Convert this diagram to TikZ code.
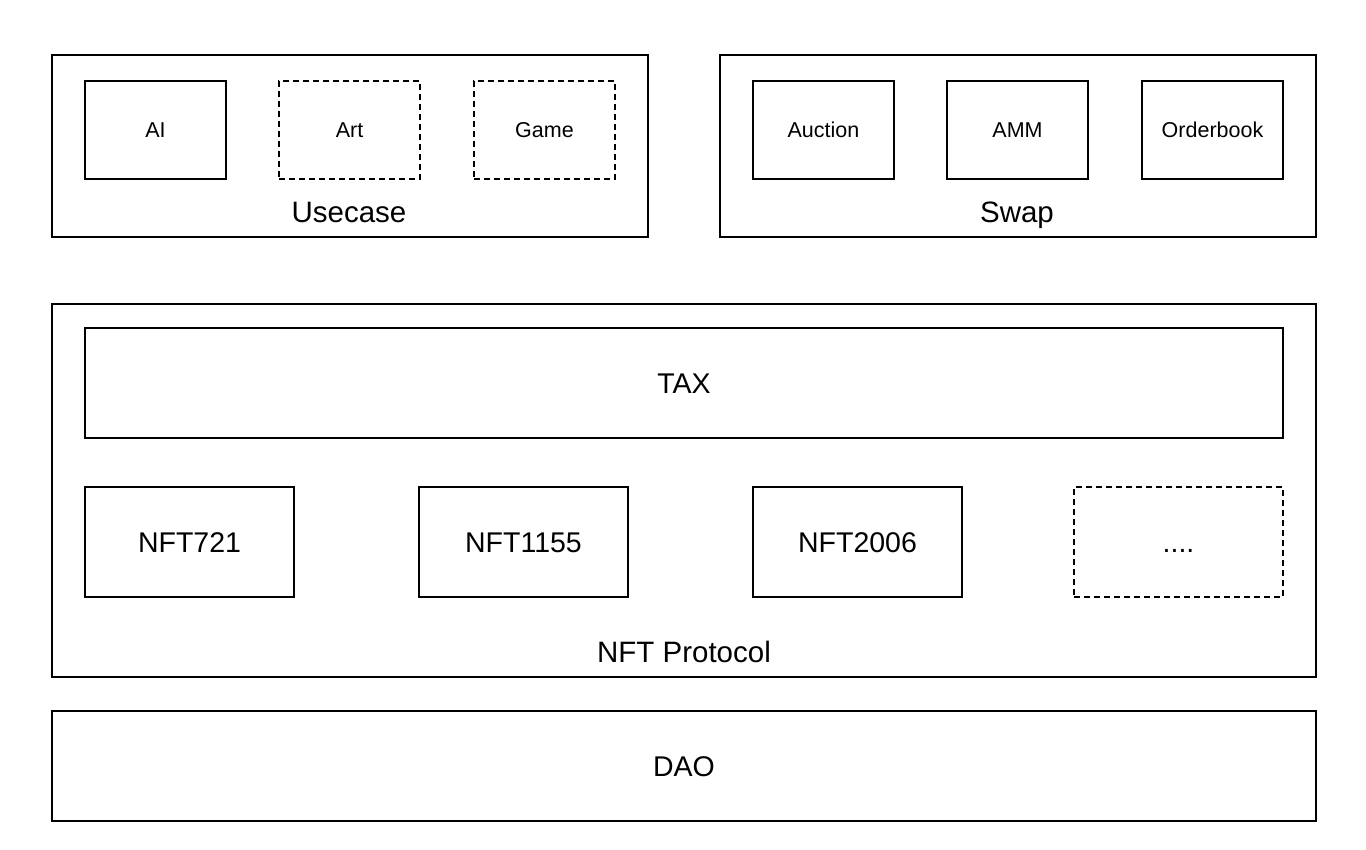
\documentclass[tikz,border=0pt]{standalone}
\usepackage{fontspec}
\setmainfont{Liberation Sans}
\begin{document}
\begin{tikzpicture}[x=1pt,y=-1pt,
  box/.style={draw=black,line width=1.2pt,rectangle,inner sep=0pt,outer sep=0pt,text depth=0pt},
  dbox/.style={box,dash pattern=on 6pt off 4pt},
  small/.style={font=\fontsize{21.5}{26}\selectfont,text height=15.5pt},
  big/.style={font=\fontsize{28.5}{34}\selectfont,text height=20.5pt},
  lbl/.style={font=\fontsize{29.5}{34}\selectfont,inner sep=0pt,text height=21.2pt,text depth=0pt}]
\useasboundingbox (0,0) rectangle (1366,850);
% outer frames
\node[box,minimum width=596pt,minimum height=182pt] (usecase) at (350,146) {};
\node[box,minimum width=596pt,minimum height=182pt] (swap) at (1018,146) {};
\node[box,minimum width=1264pt,minimum height=373pt] (proto) at (684,490.5) {};
\node[box,big,minimum width=1264pt,minimum height=110pt] (dao) at (684,766) {DAO};
% labels
\node[lbl] (usecaselbl) at (349,212) {Usecase};
\node[lbl] (swaplbl) at (1017,212) {Swap};
\node[lbl] (protolbl) at (684,652) {NFT Protocol};
% usecase
\node[box,small,minimum width=141pt,minimum height=98pt] (ai) at (155.5,130) {AI};
\node[dbox,small,minimum width=141pt,minimum height=98pt] (art) at (349.5,130) {Art};
\node[dbox,small,minimum width=141pt,minimum height=98pt] (game) at (544.5,130) {Game};
% swap
\node[box,small,minimum width=141pt,minimum height=98pt] (auction) at (823.5,130) {Auction};
\node[box,small,minimum width=141pt,minimum height=98pt] (amm) at (1017.5,130) {AMM};
\node[box,small,minimum width=141pt,minimum height=98pt] (orderbook) at (1212.5,130) {Orderbook};
% protocol
\node[box,big,minimum width=1198pt,minimum height=110pt] (tax) at (684,383) {TAX};
\node[box,big,minimum width=209pt,minimum height=110pt] (n721) at (189.5,542) {NFT721};
\node[box,big,minimum width=209pt,minimum height=110pt] (n1155) at (523.5,542) {NFT1155};
\node[box,big,minimum width=209pt,minimum height=110pt] (n2006) at (857.5,542) {NFT2006};
\node[dbox,big,minimum width=209pt,minimum height=110pt] (more) at (1178.5,542) {....};
\end{tikzpicture}
\end{document}
